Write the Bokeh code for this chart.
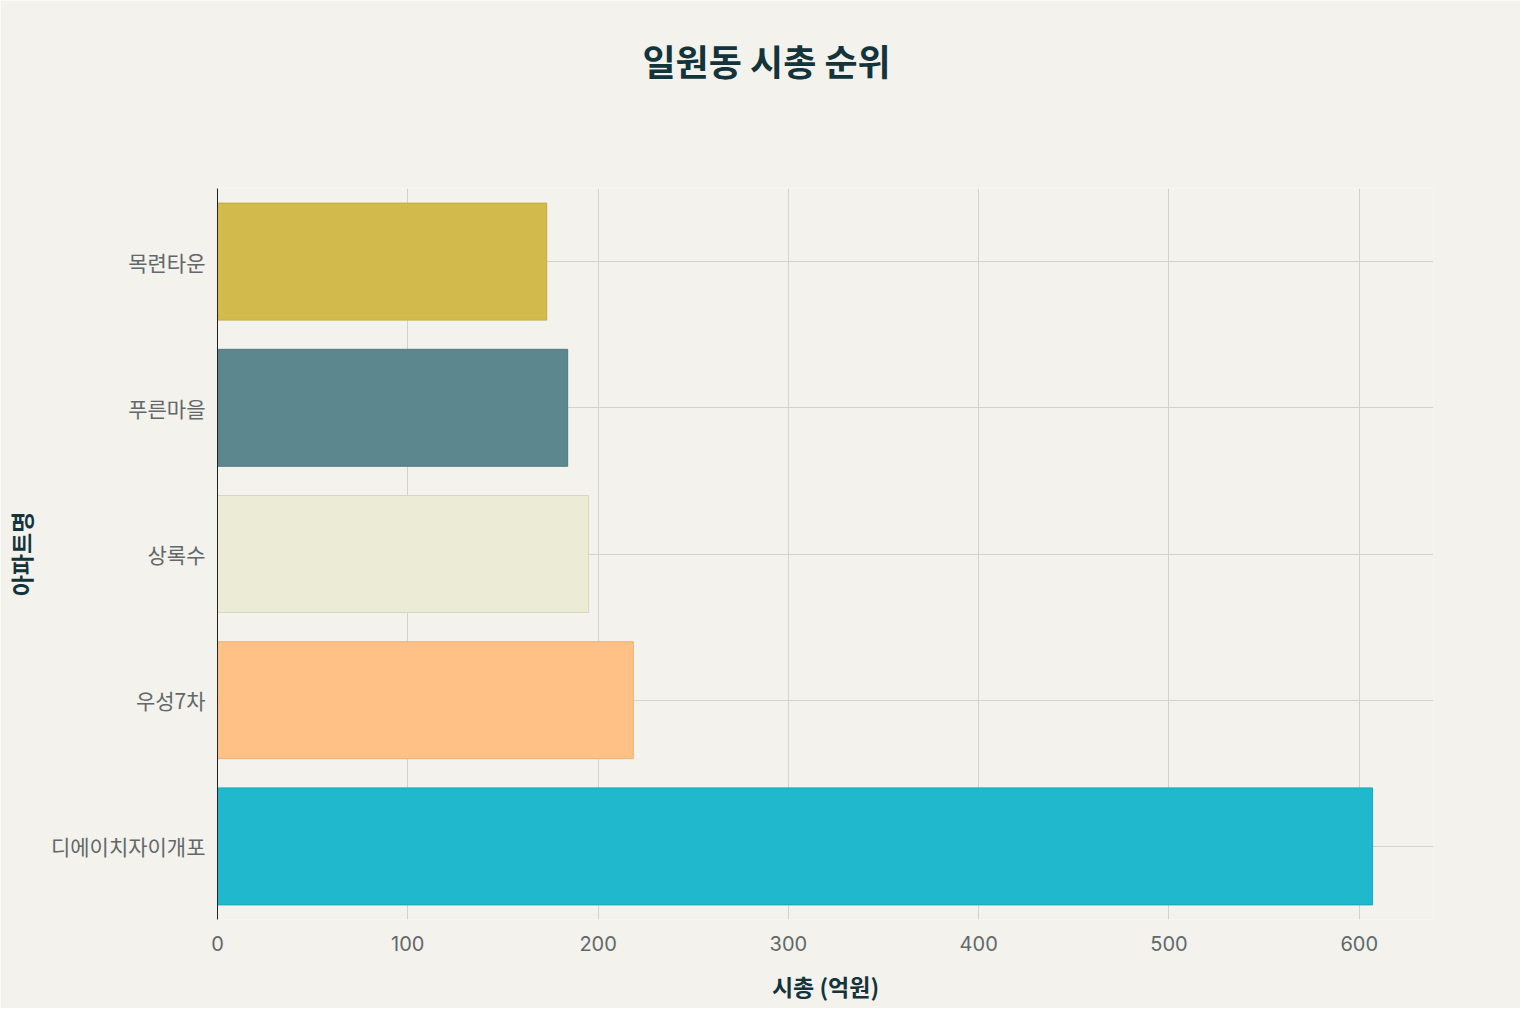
from bokeh.embed import file_html
from bokeh.resources import INLINE
from bokeh.plotting import figure
from bokeh.models import ColumnDataSource, FactorRange, Range1d, Title

# apartment names, top to bottom as drawn
names = ["목련타운", "푸른마을", "상록수", "우성7차", "디에이치자이개포"]
caps = [173, 184, 195, 218.5, 607]  # 시총, 억원
colors = ["#D2BA4C", "#5D878F", "#ECEBD5", "#FFC185", "#1FB8CD"]
edges = ["#C3AB45", "#54797F", "#D8D6BE", "#EBB07A", "#1CA6B9"]
ticks = [0, 100, 200, 300, 400, 500, 600]

FONT = "Noto Sans CJK KR"
BG = "#F3F2EC"

source = ColumnDataSource(data=dict(name=names, cap=caps, color=colors, edge=edges))

p = figure(
    width=1520, height=1008,
    y_range=FactorRange(factors=list(reversed(names)), range_padding=0),
    x_range=Range1d(0, 639),
    output_backend="svg", toolbar_location=None,
    background_fill_color=BG, border_fill_color=BG,
    min_border_left=209, min_border_right=87, min_border_bottom=89, min_border_top=188,
    outline_line_color=None,
)

p.hbar(y="name", right="cap", left=0, height=0.8, source=source,
       fill_color="color", line_color="edge", line_width=1)

p.title.text = "일원동 시총 순위"
p.title.align = "left"
p.title.offset = 425
p.title.standoff = 0
p.title.text_font = FONT
p.title.text_font_size = "36px"
p.title.text_font_style = "bold"
p.title.text_color = "#13343B"

# blank title used as a spacer between the title and the frame
p.add_layout(Title(text=" ", text_font_size="10px", standoff=90), "above")

p.xaxis.ticker = ticks
p.xaxis.axis_label = "시총 (억원)"
p.yaxis.axis_label = "아파트명"
for ax in (p.xaxis, p.yaxis):
    ax.axis_label_text_font = FONT
    ax.axis_label_text_font_size = "23px"
    ax.axis_label_text_font_style = "bold"
    ax.axis_label_text_color = "#13343B"
    ax.major_label_text_font = FONT
    ax.major_label_text_font_size = "21px"
    ax.major_label_text_color = "#62686A"
    ax.major_tick_line_color = None
    ax.minor_tick_line_color = None

p.xaxis.major_label_text_font = "Inter"
p.xaxis.major_label_text_font_size = "20px"
p.xaxis.axis_line_color = None
p.xaxis.major_label_standoff = 10
p.xaxis.axis_label_standoff = 15
p.yaxis.axis_line_color = "#222222"
p.yaxis.axis_line_width = 1
p.yaxis.major_label_standoff = 6
p.yaxis.axis_label_standoff = 10

p.xgrid.grid_line_color = "#D3D3CD"
p.ygrid.grid_line_color = "#D3D3CD"
p.xgrid.grid_line_width = 1
p.ygrid.grid_line_width = 1

open("out.html", "w").write(file_html(p, INLINE))
